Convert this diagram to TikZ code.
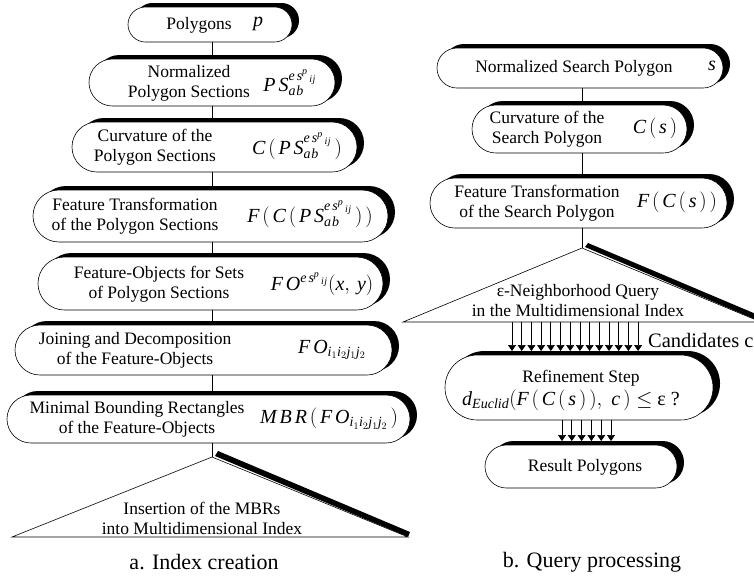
\documentclass[tikz,border=0pt]{standalone}
\usepackage{fontspec}
\setmainfont{Liberation Serif}
\usetikzlibrary{shadows,arrows.meta,calc}
\newcommand{\mi}[1]{\mathit{#1}}
\newcommand{\gp}{\mkern2.5mu}
\newcommand{\esp}{{\mi{e}\gp\mi{s}^{\mi{p}}}_{\mkern3mu\mi{i}\mkern1mu\mi{j}}}
\newcommand{\psab}{\mi{P}\gp\mi{S}_{\mi{a}\mkern1mu\mi{b}}^{\esp}}
\newcommand{\iijj}{\mi{i}_1\mi{i}_2\mi{j}_1\mi{j}_2}
\newcommand{\pbx}[5]{%
  \pgfmathsetmacro{\pbW}{#4-#2}\pgfmathsetmacro{\pbH}{#5-#3}%
  \pgfmathsetmacro{\pbX}{(#2+#4)/2}\pgfmathsetmacro{\pbY}{(#3+#5)/2}%
  \pgfmathsetmacro{\pbR}{\pbH/2-0.05}%
  \node[pbox, minimum width=\pbW pt, minimum height=\pbH pt, rounded corners=\pbR pt] (#1) at (\pbX,\pbY) {};}
\tikzset{
  pbox/.style={draw=black, line width=0.6pt, fill=white, inner sep=0pt, outer sep=0pt,
    drop shadow={shadow xshift=7pt, shadow yshift=4pt, fill=black, opacity=1}},
  txt/.style={inner sep=0pt, align=center, font=\fontsize{17.5}{20}\selectfont},
  fml/.style={inner sep=0pt, align=center, font=\fontsize{20}{22}\selectfont},
  captxt/.style={inner sep=0pt, font=\fontsize{22}{26}\selectfont},
  conn/.style={line width=0.5pt},
  arr/.style={line width=0.7pt, -{Triangle[width=8pt,length=6pt]}},
  tri/.style={draw=black, line width=0.6pt, fill=white},
  trishadow/.style={fill=black},
}
\begin{document}
\begin{tikzpicture}[x=1pt,y=-1pt]
\useasboundingbox (0,0) rectangle (754,584);
\clip (0,0) rectangle (754,584);
\fill[white] (0,0) rectangle (754,584);

% ---------- left column ----------
\pbx{b1}{128}{7}{292}{42}
\pbx{b2}{89}{59}{335}{106}
\pbx{b3}{72}{122}{357}{172}
\pbx{b4}{33}{190}{388}{242}
\pbx{b5}{38}{257}{383}{310}
\pbx{b6}{15}{325}{392}{375}
\pbx{b7}{7}{395}{410}{443}

\coordinate (cx) at (212,0);
\coordinate (ta) at (212,457);
\coordinate (tl) at (12,537);
\coordinate (tr) at (408,537);
\fill[trishadow] ($(ta)+(3,-1)$) -- ($(ta)+(6,-6)$) -- ($(tr)+(2,-5)$) -- (tr) -- cycle;
\draw[tri] (tl) -- (ta) -- (tr) -- cycle;

\draw[conn] (b1.south -| cx) -- (b2.north -| cx);
\draw[conn] (b2.south -| cx) -- (b3.north -| cx);
\draw[conn] (b3.south -| cx) -- (b4.north -| cx);
\draw[conn] (b4.south -| cx) -- (b5.north -| cx);
\draw[conn] (b5.south -| cx) -- (b6.north -| cx);
\draw[conn] (b6.south -| cx) -- (b7.north -| cx);
\draw[conn] (b7.south -| cx) -- (ta);

\node[txt] (t1) at (199,25) {Polygons};
\node[fml] (f1) at (258,24) {$\mi{p}$};
\node[txt] (t2) at (189,83) {Normalized\\Polygon Sections};
\node[fml] (f2) at (290,83) {$\psab$};
\node[txt] (t3) at (155,147) {Curvature of the\\Polygon Sections};
\node[fml] (f3) at (297,146) {$\mi{C}\gp(\gp\psab\gp)$};
\node[txt] (t4) at (135,216) {Feature Transformation\\of the Polygon Sections};
\node[fml] (f4) at (310,214) {$\mi{F}\gp(\gp\mi{C}\gp(\gp\psab\gp)\gp)$};
\node[txt] (t5) at (159,284) {Feature-Objects for Sets\\of Polygon Sections};
\node[fml] (f5) at (322,284) {$\mi{F}\gp\mi{O}^{\esp}(\mi{x},\,\mi{y})$};
\node[txt] (t6) at (135,350) {Joining and Decomposition\\of the Feature-Objects};
\node[fml] (f6) at (332,350) {$\mi{F}\gp\mi{O}_{\iijj}$};
\node[txt] (t7) at (137,419) {Minimal Bounding Rectangles\\of the Feature-Objects};
\node[fml] (f7) at (329,419) {$\mi{M}\gp\mi{B}\gp\mi{R}\gp(\gp\mi{F}\gp\mi{O}_{\iijj}\gp)$};
\node[txt] (tt) at (202,518) {Insertion of the MBRs\\into Multidimensional Index};
\node[captxt] (ca) at (204,562) {a. Index creation};

% ---------- right column ----------
\pbx{r1}{437}{48}{723}{88}
\pbx{r2}{472}{105}{687}{153}
\pbx{r3}{430}{178}{727}{228}
\pbx{r4}{445}{355}{713}{420}
\pbx{r5}{485}{445}{677}{488}

\coordinate (cy) at (582,0);
\coordinate (qa) at (582,248);
\coordinate (ql) at (403,322);
\coordinate (qr) at (761,322);
\fill[trishadow] ($(qa)+(3,-1)$) -- ($(qa)+(6,-5)$) -- ($(qr)+(2,-5)$) -- (qr) -- cycle;
\draw[tri] (ql) -- (qa) -- (qr) -- cycle;

\draw[conn] (r1.south -| cy) -- (r2.north -| cy);
\draw[conn] (r2.south -| cy) -- (r3.north -| cy);
\draw[conn] (r3.south -| cy) -- (qa);

\foreach \k in {0,...,13} {
  \coordinate (qb\k) at ({512+9.7*\k},322);
  \draw[arr] (qb\k) -- ($(qb\k |- r4.north)+(0,-4)$);
}
\foreach \k in {0,...,5} {
  \coordinate (rb\k) at ({562+9.8*\k},420);
  \draw[arr] (rb\k) -- ($(rb\k |- r5.north)+(0,-4)$);
}

\node[txt] (u1) at (574,68) {Normalized Search Polygon};
\node[fml] (g1) at (712,66) {$\mi{s}$};
\node[txt] (u2) at (547,129) {Curvature of the\\Search Polygon};
\node[fml] (g2) at (655,128) {$\mi{C}\gp(\gp\mi{s}\gp)$};
\node[txt] (u3) at (537,203) {Feature Transformation\\of the Search Polygon};
\node[fml] (g3) at (677,202) {$\mi{F}\gp(\gp\mi{C}\gp(\gp\mi{s}\gp)\gp)$};
\node[txt] (ut) at (578,301) {ε-Neighborhood Query\\in the Multidimensional Index};
\node[txt, anchor=west, font=\fontsize{20.5}{24}\selectfont] (cand) at (648,340) {Candidates c};
\node[txt] (u4) at (581,378) {Refinement Step};
\node[fml] (g4) at (571,400) {$\mi{d}_{\mi{Euclid}}(\mi{F}\gp(\gp\mi{C}\gp(\gp\mi{s}\gp)\gp),\;\mi{c}\gp)\leq$ ε ?};
\node[txt] (u5) at (585,467) {Result Polygons};
\node[captxt] (cb) at (592,562) {b. Query processing};
\end{tikzpicture}
\end{document}
